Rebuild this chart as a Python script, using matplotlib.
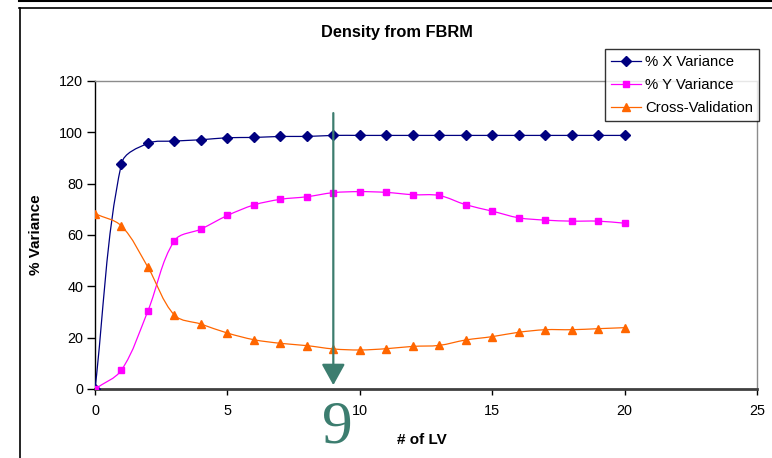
import numpy as np
import matplotlib

matplotlib.use("Agg")
import matplotlib.pyplot as plt
from matplotlib.path import Path
from matplotlib.patches import PathPatch
from matplotlib.lines import Line2D

plt.rcParams["font.family"] = ["Liberation Sans", "DejaVu Sans"]

# data
n_lv = list(range(21))
x_variance = [0, 87.8, 95.7, 96.6, 97.1, 97.9, 98.0, 98.4, 98.4, 98.8, 98.8,
              98.8, 98.8, 98.8, 98.8, 98.8, 98.8, 98.8, 98.8, 98.8, 98.8]
y_variance = [0, 7.4, 30.5, 57.8, 62.3, 67.6, 71.7, 73.9, 74.9, 76.5, 76.9,
              76.6, 75.7, 75.4, 71.8, 69.3, 66.7, 65.8, 65.4, 65.4, 64.6]
cross_val = [68.3, 63.5, 47.4, 28.8, 25.3, 21.8, 19.2, 17.8, 16.9, 15.6, 15.2,
             15.7, 16.6, 17.0, 19.1, 20.4, 22.1, 23.1, 23.1, 23.5, 23.9]
series_names = ["% X Variance", "% Y Variance", "Cross-Validation"]
x_ticks = [0, 5, 10, 15, 20, 25]
y_ticks = [0, 20, 40, 60, 80, 100, 120]
chosen_lv = 9

X_MAX, Y_MAX = 25, 120
AX_W_PX, AX_H_PX = 662, 308


def smooth_path(xs, ys):
    # Excel-style smoothed line: tangent along neighbours, control arm scaled
    # by the length of each segment (worked out in screen-like units)
    sx, sy = AX_W_PX / X_MAX, AX_H_PX / Y_MAX
    pts = np.column_stack([np.asarray(xs) * sx, np.asarray(ys) * sy]).astype(float)
    n = len(pts)
    tang = []
    for i in range(n):
        a = pts[max(i - 1, 0)]
        b = pts[min(i + 1, n - 1)]
        d = b - a
        tang.append(d / np.hypot(*d))
    verts = [pts[0]]
    codes = [Path.MOVETO]
    for i in range(n - 1):
        seg = np.hypot(*(pts[i + 1] - pts[i]))
        c1 = pts[i] + tang[i] * seg / 3.0
        c2 = pts[i + 1] - tang[i + 1] * seg / 3.0
        verts += [c1, c2, pts[i + 1]]
        codes += [Path.CURVE4] * 3
    verts = np.array(verts) / [sx, sy]
    return Path(verts, codes)


fig = plt.figure(figsize=(7.72, 4.58), dpi=100)
ax = fig.add_axes([95 / 772, 1 - 389 / 458, AX_W_PX / 772, AX_H_PX / 458])

styles = [
    (x_variance, "#000080", "D", 5.5),
    (y_variance, "#FF00FF", "s", 5.0),
    (cross_val, "#FF6600", "^", 6.0),
]
handles = []
for (vals, col, mk, ms), name in zip(styles, series_names):
    ax.add_patch(PathPatch(smooth_path(n_lv, vals), fill=False, edgecolor=col,
                           lw=0.9, zorder=3))
    ax.plot(n_lv, vals, ls="none", marker=mk, ms=ms, color=col, zorder=4)
    handles.append(Line2D([], [], color=col, lw=0.9, marker=mk, ms=ms))

ax.set_xlim(0, X_MAX)
ax.set_ylim(0, Y_MAX)
ax.set_xticks(x_ticks)
ax.set_yticks(y_ticks)
ax.tick_params(axis="x", direction="out", length=4, width=1, pad=7, labelsize=10.4, colors="black")
ax.tick_params(axis="y", direction="out", length=5.5, width=1, pad=3, labelsize=10.4, colors="black")
ax.spines["left"].set_color("black")
ax.spines["left"].set_linewidth(1.0)
ax.spines["bottom"].set_color("#404040")
ax.spines["bottom"].set_linewidth(2.0)
for s in ("top", "right"):
    ax.spines[s].set_color("#8c8c8c")
    ax.spines[s].set_linewidth(1.0)

ax.set_xlabel("# of LV", fontsize=11, fontweight="bold")
ax.xaxis.set_label_coords(0.494, -0.143)
ax.set_ylabel("% Variance", fontsize=11, fontweight="bold")
ax.yaxis.set_label_coords(-0.078, 0.5)

fig.text(397 / 772, 1 - 33 / 458, "Density from FBRM", ha="center", va="center",
         fontsize=11.8, fontweight="bold")

# arrow marking the chosen number of LVs
ax.annotate("", xy=(chosen_lv, 1.5), xytext=(chosen_lv, 107.5),
            arrowprops=dict(arrowstyle="-|>,head_length=1.3,head_width=0.72",
                            color="#3C7D6F", lw=1.6, shrinkA=0, shrinkB=0),
            annotation_clip=False, zorder=5)
ax.text(chosen_lv + 0.14, -21.0, str(chosen_lv), ha="center", va="baseline",
        fontsize=44, color="#3C7D6F", family=["Liberation Serif", "DejaVu Serif"],
        clip_on=False)

leg = ax.legend(handles, series_names, loc="upper right",
                bbox_to_anchor=(759 / 772, 1 - 49 / 458), bbox_transform=fig.transFigure,
                borderaxespad=0, fontsize=10.7, frameon=True, fancybox=False,
                edgecolor="black", handlelength=2.0, handletextpad=0.3,
                labelspacing=0.62, borderpad=0.4)
leg.get_frame().set_linewidth(1.0)
leg.set_zorder(10)

# outer chart frame
fig.add_artist(Line2D([19 / 772, 1], [1 - 0.8 / 458, 1 - 0.8 / 458], color="black", lw=1.5))
fig.add_artist(Line2D([19 / 772, 1], [1 - 7.5 / 458, 1 - 7.5 / 458], color="black", lw=1.2))
fig.add_artist(Line2D([19.5 / 772, 19.5 / 772], [0, 1 - 7.5 / 458], color="black", lw=1.2))

fig.savefig("out.png", dpi=100)
